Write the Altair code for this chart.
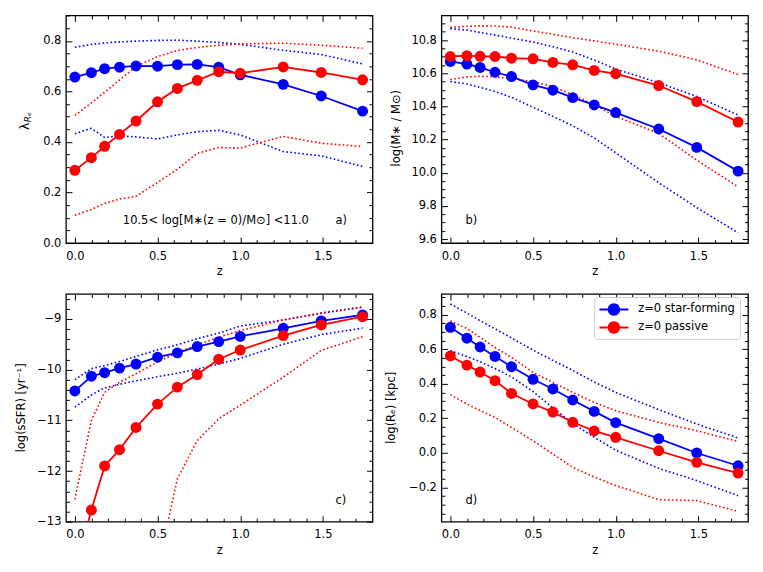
import altair as alt
import pandas as pd

# ---------------- data ----------------
Z = [0.0, 0.1, 0.18, 0.27, 0.37, 0.5, 0.62, 0.74, 0.87, 1.0, 1.26, 1.49, 1.74]
SERIES = ["z=0 star-forming", "z=0 passive"]
COLORS = ["#0000ff", "#ff0000"]

# a) lambda_Re
LAM_SF = [0.657, 0.674, 0.690, 0.696, 0.701, 0.700, 0.706, 0.707, 0.696, 0.666, 0.628, 0.582, 0.522]
LAM_PA = [0.288, 0.338, 0.383, 0.430, 0.483, 0.559, 0.612, 0.644, 0.678, 0.672, 0.697, 0.675, 0.646]
LAM_SF_HI = [0.775, 0.786, 0.792, 0.796, 0.799, 0.802, 0.803, 0.799, 0.794, 0.786, 0.763, 0.746, 0.709]
LAM_SF_LO = [0.433, 0.454, 0.418, 0.424, 0.420, 0.412, 0.428, 0.441, 0.446, 0.428, 0.362, 0.345, 0.303]
LAM_PA_HI = [0.505, 0.555, 0.597, 0.645, 0.699, 0.738, 0.762, 0.774, 0.783, 0.788, 0.791, 0.783, 0.771]
LAM_PA_LO = [0.110, 0.133, 0.157, 0.174, 0.185, 0.240, 0.292, 0.355, 0.378, 0.376, 0.422, 0.395, 0.382]

# b) stellar mass
MS_SF = [10.671, 10.655, 10.635, 10.606, 10.580, 10.530, 10.498, 10.453, 10.409, 10.363, 10.264, 10.153, 10.010]
MS_PA = [10.701, 10.706, 10.702, 10.701, 10.691, 10.687, 10.665, 10.651, 10.617, 10.597, 10.526, 10.429, 10.306]
MS_SF_HI = [10.869, 10.860, 10.846, 10.830, 10.812, 10.788, 10.760, 10.728, 10.680, 10.625, 10.543, 10.460, 10.348]
MS_SF_LO = [10.550, 10.535, 10.515, 10.490, 10.455, 10.395, 10.340, 10.283, 10.210, 10.120, 9.940, 9.790, 9.638]
MS_PA_HI = [10.877, 10.883, 10.886, 10.885, 10.878, 10.855, 10.835, 10.815, 10.795, 10.775, 10.733, 10.681, 10.592]
MS_PA_LO = [10.562, 10.578, 10.582, 10.578, 10.568, 10.550, 10.520, 10.470, 10.410, 10.340, 10.237, 10.076, 9.915]

# c) sSFR
SS_SF = [-10.42, -10.13, -10.06, -9.97, -9.89, -9.755, -9.67, -9.545, -9.447, -9.345, -9.184, -9.039, -8.921]
SS_PA = [-14.0, -12.77, -11.90, -11.58, -11.14, -10.68, -10.345, -10.097, -9.795, -9.613, -9.328, -9.118, -8.954]
SS_SF_HI = [-10.20, -9.98, -9.92, -9.84, -9.74, -9.61, -9.51, -9.39, -9.28, -9.14, -9.02, -8.89, -8.77]
SS_SF_LO = [-10.74, -10.50, -10.36, -10.29, -10.22, -10.14, -10.07, -9.99, -9.89, -9.78, -9.50, -9.31, -9.18]
SS_PA_HI = [-12.56, -11.00, -10.45, -10.25, -10.08, -9.85, -9.66, -9.51, -9.36, -9.23, -9.02, -8.88, -8.76]
SS_PA_LO = [None, None, None, None, None, -13.94, -12.15, -11.40, -10.97, -10.70, -10.15, -9.62, -9.35]

# d) effective radius
RE_SF = [0.727, 0.664, 0.613, 0.558, 0.499, 0.426, 0.370, 0.306, 0.240, 0.175, 0.082, -0.001, -0.075]
RE_PA = [0.561, 0.508, 0.468, 0.418, 0.344, 0.283, 0.236, 0.177, 0.127, 0.090, 0.012, -0.055, -0.117]
RE_SF_HI = [0.862, 0.810, 0.765, 0.718, 0.665, 0.595, 0.535, 0.478, 0.410, 0.350, 0.250, 0.167, 0.086]
RE_SF_LO = [0.592, 0.558, 0.528, 0.488, 0.440, 0.355, 0.260, 0.170, 0.090, 0.015, -0.090, -0.161, -0.248]
RE_PA_HI = [0.765, 0.720, 0.669, 0.610, 0.553, 0.466, 0.408, 0.350, 0.292, 0.244, 0.176, 0.128, 0.066]
RE_PA_LO = [0.337, 0.283, 0.245, 0.205, 0.147, 0.070, -0.007, -0.084, -0.140, -0.190, -0.271, -0.277, -0.339]

# axes
X_DOMAIN = [-0.054, 1.8]
X_MAJOR = [0.0, 0.5, 1.0, 1.5]
X_MINOR = [0.1, 0.2, 0.3, 0.4, 0.6, 0.7, 0.8, 0.9, 1.1, 1.2, 1.3, 1.4, 1.6, 1.7]

Y_A = dict(domain=[0.0, 0.901], major=[0.0, 0.2, 0.4, 0.6, 0.8], step=0.05, fmt=".1f")
Y_B = dict(domain=[9.576, 10.949], major=[9.6, 9.8, 10.0, 10.2, 10.4, 10.6, 10.8], step=0.05, fmt=".1f")
Y_C = dict(domain=[-13.0, -8.508], major=[-13, -12, -11, -10, -9], step=0.2, fmt="d")
Y_D = dict(domain=[-0.399, 0.92], major=[-0.2, 0.0, 0.2, 0.4, 0.6, 0.8], step=0.05, fmt=".1f")

FONT = "DejaVu Sans"
FS = 11.5
W, H = 307, 228


def minor_ticks(domain, major, step):
    lo, hi = domain
    out = []
    i = 0
    v0 = round(int(lo / step) * step, 4)
    while True:
        v = round(v0 + i * step, 4)
        if v > hi:
            break
        if v >= lo and all(abs(v - m) > 1e-6 for m in major):
            out.append(v)
        i += 1
    return out


def solid_df(sf, pa):
    rows = []
    for name, vals in zip(SERIES, [sf, pa]):
        for z, v in zip(Z, vals):
            if v is not None:
                rows.append({"z": z, "value": v, "series": name})
    return pd.DataFrame(rows)


def band_df(sf_hi, sf_lo, pa_hi, pa_lo):
    rows = []
    for name, bound, vals in [(SERIES[0], "hi", sf_hi), (SERIES[0], "lo", sf_lo),
                              (SERIES[1], "hi", pa_hi), (SERIES[1], "lo", pa_lo)]:
        for z, v in zip(Z, vals):
            if v is not None:
                rows.append({"z": z, "value": v, "series": name, "key": name + bound})
    return pd.DataFrame(rows)


color_scale = alt.Scale(domain=SERIES, range=COLORS)

LEGEND_PATH = ("M-1,-0.13 L3,-0.13 L3,0.13 L-1,0.13 Z "
               "M1.86,0 A0.86,0.86 0 1,1 0.14,0 A0.86,0.86 0 1,1 1.86,0 Z")


def text_layer(txt, x, y, size=FS, angle=0, align="left", baseline="middle", style="normal"):
    return alt.Chart(alt.Data(values=[{}])).mark_text(
        text=txt, fontSize=size, angle=angle, align=align, baseline=baseline,
        font=FONT, color="black", fontStyle=style
    ).encode(x=alt.value(x), y=alt.value(y))


def panel(solid, band, ycfg, texts, legend=False):
    xs = alt.Scale(domain=X_DOMAIN, nice=False, zero=False)
    ys = alt.Scale(domain=ycfg["domain"], nice=False, zero=False)
    yminor = minor_ticks(ycfg["domain"], ycfg["major"], ycfg["step"])

    def axis_layer(xaxis, yaxis):
        return alt.Chart(solid).mark_point(opacity=0).encode(
            x=alt.X("z:Q", scale=xs, axis=xaxis),
            y=alt.Y("value:Q", scale=ys, axis=yaxis),
        )

    ax1 = axis_layer(
        alt.Axis(orient="bottom", values=X_MAJOR, format=".1f", tickSize=6, offset=-6,
                 labelPadding=7, title="z", titlePadding=4),
        alt.Axis(orient="left", values=ycfg["major"], format=ycfg["fmt"], tickSize=6, offset=-6,
                 labelPadding=5, title=None),
    )
    ax2 = axis_layer(
        alt.Axis(orient="bottom", values=X_MINOR, labels=False, tickSize=3.5, offset=-3.5, title=None),
        alt.Axis(orient="left", values=yminor, labels=False, tickSize=3.5, offset=-3.5, title=None),
    )
    ax3 = axis_layer(
        alt.Axis(orient="top", values=X_MAJOR, labels=False, tickSize=6, offset=-6, title=None),
        alt.Axis(orient="right", values=ycfg["major"], labels=False, tickSize=6, offset=-6, title=None),
    )
    ax4 = axis_layer(
        alt.Axis(orient="top", values=X_MINOR, labels=False, tickSize=3.5, offset=-3.5, title=None),
        alt.Axis(orient="right", values=yminor, labels=False, tickSize=3.5, offset=-3.5, title=None),
    )

    xenc = alt.X("z:Q", scale=xs, axis=None)
    yenc = alt.Y("value:Q", scale=ys, axis=None)

    layers = []
    # dotted 16-84 percentile style envelopes
    for name, col in zip(SERIES, COLORS):
        sub = band[band["series"] == name]
        layers.append(
            alt.Chart(sub).mark_line(
                strokeDash=[1.6, 2.4], strokeWidth=1.6, clip=True, color=col
            ).encode(x=xenc, y=yenc, detail="key:N")
        )

    for name, col in zip(SERIES, COLORS):
        sub = solid[solid["series"] == name]
        line = alt.Chart(sub).mark_line(strokeWidth=1.8, clip=True, color=col).encode(
            x=xenc, y=yenc
        )
        if legend:
            leg = alt.Legend(
                title=None, orient="none", legendX=153, legendY=3,
                symbolType=LEGEND_PATH, symbolSize=210, symbolStrokeWidth=0,
                labelFont=FONT, labelFontSize=FS, labelColor="black", labelOffset=24,
                padding=5, rowPadding=4, fillColor="rgba(255,255,255,0.8)",
                strokeColor="#cccccc", cornerRadius=3,
            )
            pts = alt.Chart(sub).mark_circle(size=120, opacity=1, clip=True).encode(
                x=xenc, y=yenc,
                color=alt.Color("series:N", scale=color_scale, legend=leg),
            )
        else:
            pts = alt.Chart(sub).mark_circle(size=120, opacity=1, clip=True, color=col).encode(
                x=xenc, y=yenc
            )
        layers += [line, pts]

    layers += texts
    layers += [ax1, ax2, ax3, ax4]
    return alt.layer(*layers).resolve_axis(x="independent", y="independent").properties(
        width=W, height=H
    )


pa = panel(
    solid_df(LAM_SF, LAM_PA),
    band_df(LAM_SF_HI, LAM_SF_LO, LAM_PA_HI, LAM_PA_LO),
    Y_A,
    [
        text_layer("10.5< log[M\u2217(z = 0)/M\u2299] <11.0", 57, 206),
        text_layer("a)", 270, 206),
        text_layer("\u03bb", -37, 111, size=12.5, angle=270, align="center", baseline="alphabetic"),
        text_layer("R\u2091", -35, 102, size=9, angle=270, align="center", baseline="alphabetic", style="italic"),
    ],
)
pb = panel(
    solid_df(MS_SF, MS_PA),
    band_df(MS_SF_HI, MS_SF_LO, MS_PA_HI, MS_PA_LO),
    Y_B,
    [
        text_layer("b)", 24, 206),
        text_layer("log(M\u2217 / M\u2299)", -41.7, 113, angle=270, align="center", baseline="alphabetic"),
    ],
)
pc = panel(
    solid_df(SS_SF, SS_PA),
    band_df(SS_SF_HI, SS_SF_LO, SS_PA_HI, SS_PA_LO),
    Y_C,
    [
        text_layer("c)", 270, 207),
        text_layer("log(sSFR) [yr\u207b\u00b9]", -40.5, 114, angle=270, align="center", baseline="alphabetic"),
    ],
)
pd_ = panel(
    solid_df(RE_SF, RE_PA),
    band_df(RE_SF_HI, RE_SF_LO, RE_PA_HI, RE_PA_LO),
    Y_D,
    [
        text_layer("d)", 24, 207),
        text_layer("log(R\u2091) [kpc]", -46.5, 114, angle=270, align="center", baseline="alphabetic"),
    ],
    legend=True,
)

chart = alt.concat(
    pa, pb, pc, pd_, columns=2, spacing={"row": 51, "column": 69}, bounds="flush"
).resolve_scale(
    color="independent"
).properties(
    padding={"left": 7, "top": 5, "right": 5, "bottom": 5},
    background="white",
).configure_view(
    stroke="black", strokeWidth=1.3
).configure_axis(
    grid=False, domain=False, tickColor="black", tickWidth=1,
    labelColor="black", labelFont=FONT, labelFontSize=FS,
    titleColor="black", titleFont=FONT, titleFontSize=FS, titleFontWeight="normal",
    labelFlush=False, labelOverlap=False,
)

chart.save("out.html", embed_options={"renderer": "svg", "actions": False})
